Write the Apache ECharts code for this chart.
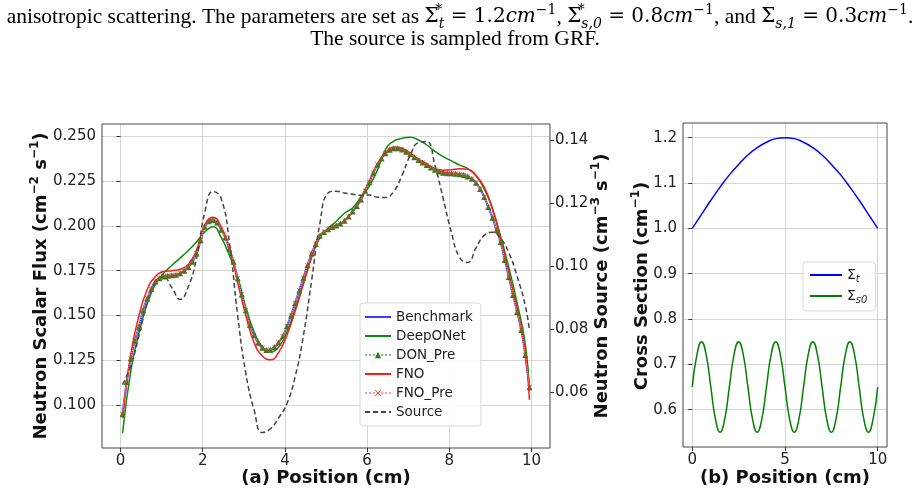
<!DOCTYPE html>
<html>
<head>
<meta charset="utf-8">
<script src="https://cdn.jsdelivr.net/npm/echarts@6/dist/echarts.min.js"></script>
<style>
  html, body { margin: 0; padding: 0; background: #fff; }
  #chart { width: 919px; height: 494px; }
</style>
</head>
<body>
<div id="chart"></div>
<script>
// ---- panel (a): flux vs position ----
const posFine = [
  0.05, 0.15, 0.25, 0.35, 0.45, 0.55, 0.65, 0.75, 0.85, 0.95,
  1.05, 1.15, 1.25, 1.35, 1.45, 1.55, 1.65, 1.75, 1.85, 1.95,
  2.05, 2.15, 2.25, 2.35, 2.45, 2.55, 2.65, 2.75, 2.85, 2.95,
  3.05, 3.15, 3.25, 3.35, 3.45, 3.55, 3.65, 3.75, 3.85, 3.95,
  4.05, 4.15, 4.25, 4.35, 4.45, 4.55, 4.65, 4.75, 4.85, 4.95,
  5.05, 5.15, 5.25, 5.35, 5.45, 5.55, 5.65, 5.75, 5.85, 5.95,
  6.05, 6.15, 6.25, 6.35, 6.45, 6.55, 6.65, 6.75, 6.85, 6.95,
  7.05, 7.15, 7.25, 7.35, 7.45, 7.55, 7.65, 7.75, 7.85, 7.95,
  8.05, 8.15, 8.25, 8.35, 8.45, 8.55, 8.65, 8.75, 8.85, 8.95,
  9.05, 9.15, 9.25, 9.35, 9.45, 9.55, 9.65, 9.75, 9.85, 9.95
];
const posCoarse = [
  0.05, 0.25, 0.45, 0.65, 0.85, 1.05, 1.25, 1.45, 1.65, 1.85,
  2.05, 2.25, 2.45, 2.65, 2.85, 3.05, 3.25, 3.45, 3.65, 3.85,
  4.05, 4.25, 4.45, 4.65, 4.85, 5.05, 5.25, 5.45, 5.65, 5.85,
  6.05, 6.25, 6.45, 6.65, 6.85, 7.05, 7.25, 7.45, 7.65, 7.85,
  8.05, 8.25, 8.45, 8.65, 8.85, 9.05, 9.25, 9.45, 9.65, 9.85, 9.95
];
const benchmark = [
  0.095, 0.113, 0.126, 0.136, 0.1438, 0.153, 0.1595, 0.1648, 0.169, 0.1708,
  0.1718, 0.1722, 0.1724, 0.1727, 0.1735, 0.175, 0.177, 0.180, 0.1845, 0.192,
  0.1995, 0.2025, 0.2032, 0.2018, 0.1978, 0.1935, 0.187, 0.180, 0.1707, 0.1617,
  0.153, 0.1447, 0.1392, 0.1348, 0.132, 0.1308, 0.131, 0.1325, 0.135, 0.1385,
  0.144, 0.150, 0.157, 0.164, 0.171, 0.178, 0.1845, 0.190, 0.1945, 0.1965,
  0.198, 0.1993, 0.2002, 0.2012, 0.2028, 0.2052, 0.208, 0.211, 0.2146, 0.2195,
  0.2242, 0.2295, 0.234, 0.2375, 0.2404, 0.2423, 0.2432, 0.2432, 0.2425, 0.2412,
  0.2398, 0.2382, 0.2366, 0.2352, 0.2338, 0.2325, 0.2312, 0.2302, 0.2296, 0.2293,
  0.2292, 0.229, 0.2287, 0.2283, 0.2275, 0.2262, 0.224, 0.2205, 0.216, 0.2105,
  0.2045, 0.1975, 0.191, 0.181, 0.1715, 0.1615, 0.152, 0.142, 0.128, 0.110
];
// the prediction markers sit on the benchmark curve
const donPre = benchmark.slice();
const fnoPre = benchmark.slice();
const deepONet = [
  0.0845, 0.119, 0.1405, 0.1565, 0.1675, 0.1735, 0.178, 0.182, 0.1862, 0.191,
  0.1965, 0.1995, 0.1935, 0.1835, 0.1715, 0.1545, 0.141, 0.1325, 0.1298, 0.1325,
  0.141, 0.1535, 0.168, 0.1825, 0.1935, 0.1985, 0.2025, 0.207, 0.210, 0.216,
  0.222, 0.231, 0.2425, 0.2472, 0.2487, 0.2493, 0.2478, 0.245, 0.2415, 0.2385,
  0.2362, 0.2338, 0.2318, 0.2278, 0.2205, 0.2095, 0.194, 0.1765, 0.157, 0.134, 0.108
];
const fno = [
  0.093, 0.1285, 0.150, 0.1645, 0.1718, 0.1745, 0.175, 0.1758, 0.1785, 0.1865,
  0.2005, 0.2048, 0.1995, 0.1875, 0.1685, 0.150, 0.135, 0.1275, 0.1253, 0.1295,
  0.139, 0.1525, 0.1675, 0.1825, 0.1935, 0.198, 0.2005, 0.2028, 0.2082, 0.2148,
  0.2245, 0.2345, 0.2408, 0.2438, 0.2432, 0.2405, 0.2372, 0.2345, 0.2318, 0.231,
  0.2312, 0.2318, 0.2315, 0.2282, 0.2215, 0.2095, 0.1925, 0.1735, 0.1535, 0.129, 0.103
];
const source = [
  0.0625, 0.0685, 0.078, 0.0885, 0.0952, 0.0965, 0.0932, 0.0895, 0.0935, 0.1025,
  0.117, 0.1237, 0.1215, 0.1075, 0.0845, 0.066, 0.0545, 0.0473, 0.0485, 0.052,
  0.0565, 0.065, 0.078, 0.0955, 0.1135, 0.1232, 0.1238, 0.1232, 0.1228, 0.1225,
  0.1226, 0.1219, 0.1218, 0.1238, 0.1288, 0.1352, 0.1392, 0.1395, 0.132, 0.1215,
  0.1108, 0.1028, 0.1012, 0.1058, 0.1098, 0.1108, 0.1088, 0.1042, 0.0968, 0.0875, 0.0795
];
const posTicksA = [0, 2, 4, 6, 8, 10];
const fluxTicks = [0.100, 0.125, 0.150, 0.175, 0.200, 0.225, 0.250];
const sourceTicks = [0.06, 0.08, 0.10, 0.12, 0.14];

// ---- panel (b): cross sections ----
const posSigT = [0, 0.5, 1, 1.5, 2, 2.5, 3, 3.5, 4, 4.5, 5, 5.5, 6, 6.5, 7, 7.5, 8, 8.5, 9, 9.5, 10];
const sigmaT = [1.0, 1.031, 1.062, 1.091, 1.118, 1.141, 1.162, 1.178, 1.190, 1.198, 1.2,
                1.198, 1.190, 1.178, 1.162, 1.141, 1.118, 1.091, 1.062, 1.031, 1.0];
const posSigS = [
  0, 0.25, 0.5, 0.75, 1, 1.25, 1.5, 1.75, 2, 2.25, 2.5, 2.75, 3, 3.25, 3.5, 3.75,
  4, 4.25, 4.5, 4.75, 5, 5.25, 5.5, 5.75, 6, 6.25, 6.5, 6.75, 7, 7.25, 7.5, 7.75,
  8, 8.25, 8.5, 8.75, 9, 9.25, 9.5, 9.75, 10
];
const sigmaS0 = [
  0.65, 0.721, 0.75, 0.721, 0.65, 0.579, 0.55, 0.579,
  0.65, 0.721, 0.75, 0.721, 0.65, 0.579, 0.55, 0.579,
  0.65, 0.721, 0.75, 0.721, 0.65, 0.579, 0.55, 0.579,
  0.65, 0.721, 0.75, 0.721, 0.65, 0.579, 0.55, 0.579,
  0.65, 0.721, 0.75, 0.721, 0.65, 0.579, 0.55, 0.579, 0.65
];
const posTicksB = [0, 5, 10];
const csTicks = [0.6, 0.7, 0.8, 0.9, 1.0, 1.1, 1.2];

const zip = (xs, ys) => xs.map((x, i) => [x, ys[i]]);
const onTick = (list, digits) => v => list.some(t => Math.abs(t - v) < 1e-6) ? v.toFixed(digits) : '';

const FONT = 'DejaVu Sans';
const gridLine = { show: true, lineStyle: { color: '#d6d6d6', width: 1 } };
const tick = vals => ({ show: true, inside: false, length: 4, customValues: vals, lineStyle: { color: '#333', width: 1 } });
const label = (vals, digits, margin) => ({
  customValues: vals, formatter: onTick(vals, digits),
  fontFamily: FONT, fontSize: 15, color: '#222', margin: margin
});
const xMark = 'path://M0,1L1,0L5,4L9,0L10,1L6,5L10,9L9,10L5,6L1,10L0,9L4,5Z';
// legend entries for plain lines: hide the marker, keep the line
const noMark = { opacity: 0 };

const sup = { fontSize: 12, fontWeight: 'bold', fontFamily: FONT, lineHeight: 12, verticalAlign: 'top', fill: '#111' };
const axisTitle = (text, x, y, rot) => ({
  type: 'text', x: x, y: y, rotation: rot, z: 50,
  style: {
    text: text, fontFamily: FONT, fontSize: 18, fontWeight: 'bold', fill: '#111',
    align: 'center', verticalAlign: 'middle', lineHeight: 24,
    rich: { n: { fontFamily: FONT, fontSize: 18, fontWeight: 'bold', lineHeight: 24, fill: '#111' }, s: sup }
  }
});

const serif = 'Liberation Serif';
const mathFont = 'DejaVu Serif';
const titleRich = {
  n: { fontFamily: serif, fontSize: 21.5, lineHeight: 28, fill: '#000' },
  m: { fontFamily: mathFont, fontSize: 20, lineHeight: 28, fill: '#000' },
  i: { fontFamily: mathFont, fontSize: 20, fontStyle: 'italic', lineHeight: 28, fill: '#000' },
  p: { fontFamily: mathFont, fontSize: 14, lineHeight: 14, verticalAlign: 'top', fill: '#000' },
  p0: { fontFamily: mathFont, fontSize: 14, lineHeight: 14, verticalAlign: 'top', width: 0.01, fill: '#000' },
  b: { fontFamily: mathFont, fontSize: 14, fontStyle: 'italic', lineHeight: 14, verticalAlign: 'bottom', fill: '#000' }
};
const titleLine1 =
  '{n|anisotropic scattering. The parameters are set as }{m|Σ}{p0|*}{b|t}{m| = 1.2}{i|cm}{p|−1}' +
  '{n|, }{m|Σ}{p0|*}{b|s,0}{m| = 0.8}{i|cm}{p|−1}{n|, and }{m|Σ}{b|s,1}{m| = 0.3}{i|cm}{p|−1}{n|.}';

const chart = echarts.init(document.getElementById('chart'));
chart.setOption({
  animation: false,
  backgroundColor: '#fff',
  grid: [
    { left: 102, top: 124, width: 448, height: 324 },
    { left: 683, top: 123, width: 204, height: 324 }
  ],
  xAxis: [
    { type: 'value', gridIndex: 0, min: -0.45, max: 10.45, minInterval: 2, maxInterval: 2,
      axisLine: { show: false }, axisTick: tick(posTicksA), axisLabel: label(posTicksA, 0, 6), splitLine: gridLine },
    { type: 'value', gridIndex: 1, min: -0.5, max: 10.5, minInterval: 5, maxInterval: 5,
      axisLine: { show: false }, axisTick: tick(posTicksB), axisLabel: label(posTicksB, 0, 6), splitLine: gridLine }
  ],
  yAxis: [
    { type: 'value', gridIndex: 0, min: 0.0762, max: 0.2567, minInterval: 0.025, maxInterval: 0.025,
      axisLine: { show: false }, axisTick: tick(fluxTicks), axisLabel: label(fluxTicks, 3, 6), splitLine: gridLine },
    { type: 'value', gridIndex: 0, position: 'right', min: 0.0424, max: 0.1451, minInterval: 0.02, maxInterval: 0.02,
      axisLine: { show: false }, axisTick: tick(sourceTicks), axisLabel: label(sourceTicks, 2, 5), splitLine: { show: false } },
    { type: 'value', gridIndex: 1, min: 0.5175, max: 1.2325, minInterval: 0.1, maxInterval: 0.1,
      axisLine: { show: false }, axisTick: tick(csTicks), axisLabel: label(csTicks, 1, 6), splitLine: gridLine }
  ],
  legend: [
    {
      data: [
        { name: 'Benchmark', itemStyle: noMark },
        { name: 'DeepONet', itemStyle: noMark },
        { name: 'DON_Pre' },
        { name: 'FNO', itemStyle: noMark },
        { name: 'FNO_Pre' },
        { name: 'Source', itemStyle: noMark }
      ],
      orient: 'vertical', left: 360, top: 303, itemWidth: 26, itemHeight: 8, itemGap: 5,
      padding: [7, 8, 7, 4], backgroundColor: 'rgba(255,255,255,0.85)',
      borderColor: '#d8d8d8', borderWidth: 1, borderRadius: 3,
      textStyle: { fontFamily: FONT, fontSize: 13.5, color: '#222' }
    },
    {
      data: [{ name: 'Σt', itemStyle: noMark }, { name: 'Σs0', itemStyle: noMark }],
      orient: 'vertical', left: 803, top: 262, itemWidth: 32, itemHeight: 10, itemGap: 5,
      padding: [6, 8, 6, 6], backgroundColor: 'rgba(255,255,255,0.85)',
      borderColor: '#d8d8d8', borderWidth: 1, borderRadius: 3,
      formatter: name => name === 'Σt' ? '{m|Σ}{b|t}' : '{m|Σ}{b|s0}',
      textStyle: {
        fontFamily: FONT, fontSize: 13, color: '#222',
        rich: {
          m: { fontFamily: FONT, fontSize: 14, color: '#222', lineHeight: 18 },
          b: { fontFamily: FONT, fontSize: 10, fontStyle: 'italic', color: '#222', lineHeight: 10, verticalAlign: 'bottom' }
        }
      }
    }
  ],
  series: [
    { name: 'Benchmark', type: 'line', xAxisIndex: 0, yAxisIndex: 0, data: zip(posFine, benchmark),
      smooth: true, symbol: 'none', lineStyle: { color: '#3a3aff', width: 2 }, itemStyle: { color: '#3a3aff' } },
    { name: 'DeepONet', type: 'line', xAxisIndex: 0, yAxisIndex: 0, data: zip(posCoarse, deepONet),
      smooth: true, symbol: 'none', lineStyle: { color: '#0a8a0a', width: 1.5 }, itemStyle: { color: '#0a8a0a' } },
    { name: 'DON_Pre', type: 'line', xAxisIndex: 0, yAxisIndex: 0, data: zip(posFine, donPre),
      smooth: true, symbol: 'triangle', symbolSize: 6, showAllSymbol: true,
      lineStyle: { color: '#7cc47c', width: 1, type: 'dotted' }, itemStyle: { color: '#2f7a1e' } },
    { name: 'FNO', type: 'line', xAxisIndex: 0, yAxisIndex: 0, data: zip(posCoarse, fno),
      smooth: true, symbol: 'none', lineStyle: { color: '#ff1a1a', width: 1.5 }, itemStyle: { color: '#ff1a1a' } },
    { name: 'FNO_Pre', type: 'line', xAxisIndex: 0, yAxisIndex: 0, data: zip(posFine, fnoPre),
      smooth: true, symbol: xMark, symbolSize: 5, showAllSymbol: true,
      lineStyle: { color: '#ff9a9a', width: 1, type: 'dotted' }, itemStyle: { color: '#d0502a', opacity: 0.85 } },
    { name: 'Source', type: 'line', xAxisIndex: 0, yAxisIndex: 1, data: zip(posCoarse, source),
      smooth: true, symbol: 'none', lineStyle: { color: '#444', width: 1.5, type: [5, 3] }, itemStyle: { color: '#444' } },
    { name: 'Σt', type: 'line', xAxisIndex: 1, yAxisIndex: 2, data: zip(posSigT, sigmaT),
      smooth: true, symbol: 'none', lineStyle: { color: '#0000ff', width: 1.5 }, itemStyle: { color: '#0000ff' } },
    { name: 'Σs0', type: 'line', xAxisIndex: 1, yAxisIndex: 2, data: zip(posSigS, sigmaS0),
      smooth: true, symbol: 'none', lineStyle: { color: '#008000', width: 1.5 }, itemStyle: { color: '#008000' } }
  ],
  graphic: [
    { type: 'rect', z: 40, silent: true, shape: { x: 102, y: 124, width: 448, height: 324 },
      style: { fill: 'none', stroke: '#444', lineWidth: 1 } },
    { type: 'rect', z: 40, silent: true, shape: { x: 683, y: 123, width: 204, height: 324 },
      style: { fill: 'none', stroke: '#444', lineWidth: 1 } },
    { type: 'text', x: 460, y: 17, z: 50,
      style: { text: titleLine1, align: 'center', verticalAlign: 'middle', rich: titleRich } },
    { type: 'text', x: 455, y: 39, z: 50,
      style: { text: 'The source is sampled from GRF.', fontFamily: serif, fontSize: 21.5, fill: '#000',
               align: 'center', verticalAlign: 'middle' } },
    axisTitle('{n|Neutron Scalar Flux (cm}{s|−2}{n| s}{s|−1}{n|)}', 41, 286, Math.PI / 2),
    axisTitle('{n|Neutron Source (cm}{s|−3}{n| s}{s|−1}{n|)}', 602, 286, Math.PI / 2),
    axisTitle('{n|Cross Section (cm}{s|−1}{n|)}', 642, 286, Math.PI / 2),
    axisTitle('{n|(a) Position (cm)}', 326, 478, 0),
    axisTitle('{n|(b) Position (cm)}', 785, 478, 0)
  ]
});
</script>
</body>
</html>
